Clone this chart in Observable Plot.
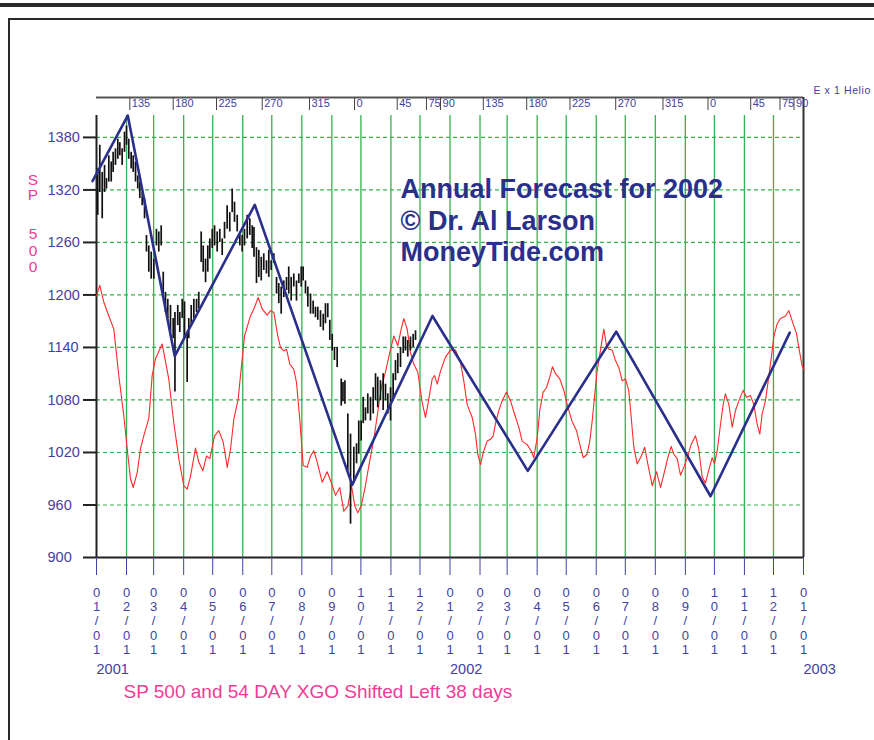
<!DOCTYPE html>
<html><head><meta charset="utf-8">
<script src="https://cdn.jsdelivr.net/npm/d3@7"></script>
<script src="https://cdn.jsdelivr.net/npm/@observablehq/plot@0.6"></script>
<style>
html,body{margin:0;padding:0;background:#fff;}
#wrap{position:relative;width:874px;height:740px;overflow:hidden;font-family:"Liberation Sans",Arial,sans-serif;}
.b{position:absolute;background:#2a2a2a;}
#wrap svg{position:absolute;left:0;top:0;}
</style></head><body>
<div id="wrap">
 <div class="b" style="left:0;top:3px;width:874px;height:4px"></div>
 <div class="b" style="left:8px;top:18px;width:866px;height:2px"></div>
 <div class="b" style="left:8px;top:18px;width:2px;height:722px"></div>
</div>
<script>
// ---------- data ----------
const startDate = "2001-01-01";
const yTicks = [900, 960, 1020, 1080, 1140, 1200, 1260, 1320, 1380];
const yearLabels = ["2001", "2002", "2003"];
const yearDays = [0, 365, 730];

// Earth heliocentric longitude marks (day offsets from start)
const helioDays = [34.4, 79.2, 123.9, 171.1, 219.9, 266.4, 310.5, 340.7, 355.2,
                   399.4, 444.2, 488.9, 536.1, 584.9, 631.4, 675.5, 705.7, 720.2];
const helioLabels = ["135","180","225","270","315","0","45","75","90",
                     "135","180","225","270","315","0","45","75","90"];

// SP 500 daily high/low (sampled), day offsets from start
const barDay = [1.3,3.4,5.9,8.3,10.3,12.7,15.2,17.2,19.6,22,24.1,26.5,28.9,31,33.3,35.8,37.9,40.3,42.6,44.7,
  47.2,49.6,51.6,54,56.5,59.2,61.9,64.3,66.8,68.9,71.2,73.6,76.4,79.2,81,83.9,86,88.5,90.9,93.6,
  95.3,97.8,100.5,103.3,105.6,108.1,110.2,112.6,114.9,117,119.5,121.9,124.6,127.3,129.8,132.2,134.9,137.6,140.1,142.5,
  145.3,148,150.4,152.8,155.6,158.3,160.8,162.6,165.2,167.6,170.1,172.7,175.5,177.9,180.4,183.1,185.9,188.2,190.7,193.4,
  196.2,198.5,201,203.7,206.5,208.9,211.4,213.4,215.8,218.2,221,223.7,226.1,228.5,231.3,234.1,236.4,238.8,240.9,243.4,
  245.7,248.5,252.7,254.5,256.5,259.5,262.3,265.7,268.5,270.8,273.3,275.4,277.7,280.1,282.9,285.7,288.1,290.4,293.2,296,
  298.4,300.8,303.6,306.3,308.7,311.1,313.9,316.7,319,321.4,324.2,327,329.4];
const barHigh = [1344,1371,1340,1348,1333,1359,1352,1363,1367,1378,1374,1367,1386,1393,1378,1363,1359,1352,1336,1329,
  1317,1310,1268,1256,1249,1241,1275,1272,1279,1226,1203,1195,1188,1173,1180,1188,1180,1195,1192,1157,
  1173,1188,1195,1195,1203,1272,1256,1241,1256,1264,1275,1279,1272,1275,1264,1283,1302,1294,1321,1306,
  1291,1272,1268,1275,1291,1287,1279,1277,1254,1251,1243,1247,1239,1251,1239,1247,1220,1213,1209,1216,
  1220,1232,1220,1224,1216,1224,1232,1232,1216,1209,1201,1193,1186,1186,1182,1178,1190,1190,1171,1155,
  1140,1140,1104,1100,1102,1064,1041,1026,1030,1056,1056,1083,1071,1087,1083,1094,1110,1106,1102,1110,
  1098,1087,1094,1110,1125,1133,1140,1152,1152,1148,1152,1155,1159];
const barLow = [1291,1317,1287,1317,1321,1329,1329,1340,1348,1355,1359,1348,1363,1371,1355,1344,1340,1329,1321,1310,
  1302,1287,1249,1226,1218,1218,1256,1249,1256,1199,1180,1173,1157,1150,1089,1165,1157,1173,1150,1100,
  1150,1165,1173,1180,1184,1237,1226,1214,1226,1241,1253,1256,1249,1260,1245,1264,1275,1272,1294,1283,
  1272,1256,1249,1256,1264,1268,1253,1243,1213,1220,1216,1228,1224,1220,1228,1236,1201,1190,1178,1197,
  1205,1201,1193,1209,1193,1213,1209,1216,1201,1186,1178,1178,1174,1171,1163,1159,1167,1174,1148,1136,
  1125,1117,1073,1078,1075,999,938,988,1007,1018,1033,1053,1056,1064,1056,1064,1079,1071,1079,1068,
  1079,1064,1056,1079,1102,1110,1117,1133,1136,1129,1136,1140,1148];

// 54 day XGO shifted left 38 days
const xgoDay = [0,3.4,7.5,12.7,17.9,23,28.2,31.7,35.1,37.9,42,45.4,48.8,54,57.5,60.9,67.8,74.6,79.8,85,
  90.1,93.6,97.1,102.2,105.6,109.8,113.6,117,121.9,126.3,130.8,135,138.4,141.8,146.3,148.7,152.8,159,162.4,167,
  171.1,176.2,179.7,183.1,187.2,190,193.4,196.2,199.6,203.7,206.5,209.9,213.4,217.5,221,224.4,227.9,233,238.2,242.3,
  246.8,251.2,255.3,259.5,263.3,266.7,269.8,273.3,277,281.9,286.3,290.4,293.9,298.4,302.8,307,311.1,314.6,317.3,320.8,
  324.2,327.6,331.7,336.3,339.7,343.1,346.6,349,351.8,355.2,360.3,365.5,370.7,375.8,379.2,382.7,387.9,391.3,393.7,396.5,
  399.9,403.4,406.8,409.6,412,415.4,418.9,423.3,427.5,431.6,436,439.5,444.7,448.8,451.5,455,457.7,461.2,464.6,468,
  470.8,473.9,478.4,482.5,486.6,491.2,495.6,499.7,502.5,506.6,509.3,511.8,514.2,516.9,520.4,523.8,526.6,528.9,532.5,535.9,
  539.3,542.8,546.2,549.6,552.1,554.8,558.3,561.7,566.1,569.2,573.8,578.2,582.4,586.5,589.9,593.4,596.1,599.6,603,606.4,
  609.9,614,618.5,621.9,625.4,628.8,632.2,635.7,638.1,640.9,644.3,647.1,649.4,652.9,656.4,659.8,663.2,667.7,671.1,675.3,
  678.7,682.2,684.9,687.3,690.7,694.1,697.7,699.3,702.8,706.2,711.4,714.8,719.3,722.8,725.1,728.6,730.3];
const xgoValue = [1199,1211,1192,1176,1161,1108,1062,1024,990,980,997,1024,1039,1059,1108,1127,1144,1104,1054,1013,
  982,978,993,1025,1009,999,1016,1013,1039,1045,1032,1003,1024,1058,1081,1108,1153,1176,1184,1197,
  1184,1177,1182,1180,1153,1140,1136,1138,1121,1115,1100,1058,1005,1003,1016,1022,1009,986,998,986,
  971,980,953,959,982,959,951,959,978,1009,1035,1066,1093,1112,1134,1153,1142,1161,1173,1161,
  1134,1121,1112,1077,1060,1081,1104,1108,1098,1113,1129,1137,1137,1123,1102,1075,1060,1041,1018,1006,
  1022,1033,1035,1039,1053,1068,1079,1089,1079,1064,1049,1033,1029,1022,1014,1037,1068,1089,1094,1106,
  1118,1110,1104,1091,1072,1055,1045,1026,1014,1018,1033,1056,1083,1113,1137,1161,1142,1138,1137,1125,
  1117,1102,1104,1091,1060,1026,1007,1014,1026,1007,982,998,980,998,1014,1027,1018,1013,994,1003,
  1014,1029,1039,1024,992,985,1000,1014,1007,1022,1052,1075,1087,1075,1049,1068,1079,1091,1083,1085,
  1075,1052,1041,1064,1079,1106,1137,1152,1167,1173,1176,1182,1167,1156,1140,1119,1115];

// Forecast zigzag (turning points)
const forecastDay = [-4.1, 32.3, 80.8, 163.4, 264, 346.9, 445.3, 536.6, 634, 715.8];
const forecastValue = [1330, 1405, 1130, 1303, 983, 1176, 999, 1158, 970, 1157];

// ---------- helpers ----------
const t0 = new Date(startDate + "T00:00:00Z").getTime();
const toDate = n => new Date(t0 + n * 864e5);
const bars = barDay.map((d, i) => ({date: toDate(d), high: barHigh[i], low: barLow[i]}));
const xgo = xgoDay.map((d, i) => ({date: toDate(d), value: xgoValue[i]}));
const forecast = forecastDay.map((d, i) => ({date: toDate(d), value: forecastValue[i]}));
const helio = helioDays.map((d, i) => ({date: toDate(d), label: helioLabels[i]}));
const years = yearDays.map((d, i) => ({date: toDate(d), label: yearLabels[i]}));
const monthTicks = d3.utcMonth.range(toDate(0), toDate(731));
const gridMonths = monthTicks.filter(d => d > toDate(0) && d < toDate(730));

const BLUE = "#4242a0", GREEN = "#35b24e", NAVY = "#2b2f8c", PINK = "#f03c96";
const FONT = "Liberation Sans, Arial, sans-serif";
const monthLabel = d => {
  const m = String(d.getUTCMonth() + 1).padStart(2, "0");
  return [m[0], m[1], "/", "0", "1"].join("\n");
};

const chart = Plot.plot({
  width: 874, height: 740,
  marginLeft: 96, marginRight: 71, marginTop: 97, marginBottom: 183,
  style: {fontFamily: FONT, background: "transparent", overflow: "visible"},
  x: {type: "utc", domain: [toDate(0), toDate(730)], axis: null},
  y: {domain: [900, 1425.6], axis: null},
  marks: [
    // grid
    Plot.ruleY(yTicks.filter(v => v > 900), {stroke: GREEN, strokeWidth: 1.2, strokeDasharray: "4,3"}),
    Plot.ruleX(gridMonths, {insetTop: 18, stroke: GREEN, strokeWidth: 1.3}),
    // frame lines
    Plot.ruleY([1425.6], {stroke: "#555", strokeWidth: 2}),
    Plot.ruleX([toDate(0)], {insetTop: 18, stroke: "#222", strokeWidth: 2}),
    Plot.ruleX([toDate(730)], {stroke: "#333", strokeWidth: 2}),
    Plot.ruleY([900], {stroke: "#222", strokeWidth: 2}),
    // helio top axis
    Plot.ruleX(helio, {x: "date", insetBottom: 447, stroke: "#444", strokeWidth: 1}),
    Plot.text(helio, {x: "date", frameAnchor: "top", text: "label", textAnchor: "start", lineAnchor: "top",
      dx: 2, dy: 2, fontSize: 11, fill: BLUE}),
    Plot.text(["E x 1 Helio"], {frameAnchor: "top-right", textAnchor: "start", lineAnchor: "bottom",
      dx: 10, dy: -4, fontSize: 10.5, fill: BLUE}),
    // y axis
    Plot.axisY({ticks: yTicks, tickSize: 13, text: null, stroke: "#222", strokeWidth: 2}),
    Plot.axisY({ticks: yTicks, tickSize: 0, tickPadding: 49, textAnchor: "start", tickFormat: d => String(d),
      fontSize: 14.5, fill: BLUE}),
    // x axis
    Plot.axisX({ticks: monthTicks, tickSize: 18, tickPadding: 11, tickFormat: monthLabel,
      fontSize: 13, lineHeight: 1.1, stroke: BLUE, fill: BLUE}),
    Plot.text(years, {x: "date", frameAnchor: "bottom", text: "label", textAnchor: "start", lineAnchor: "bottom",
      dy: 116, fontSize: 14.5, fill: BLUE}),
    // data
    Plot.line(xgo, {x: "date", y: "value", stroke: "#ff2a2a", strokeWidth: 1.1}),
    Plot.ruleX(bars, {x: "date", y1: "low", y2: "high", stroke: "#111", strokeWidth: 1.7}),
    Plot.line(forecast, {x: "date", y: "value", stroke: NAVY, strokeWidth: 2.6}),
    // titles
    Plot.text(["Annual Forecast for 2002\n© Dr. Al Larson\nMoneyTide.com"], {frameAnchor: "top-left",
      textAnchor: "start", lineAnchor: "top", dx: 304, dy: 78, fontSize: 27, fontWeight: "bold",
      lineHeight: 1.17, fill: NAVY}),
    Plot.text(["S\nP"], {frameAnchor: "top-left", textAnchor: "middle", lineAnchor: "top",
      dx: -63.5, dy: 76, fontSize: 15.5, lineHeight: 1.0, fill: PINK}),
    Plot.text(["5\n0\n0"], {frameAnchor: "top-left", textAnchor: "middle", lineAnchor: "top",
      dx: -63.5, dy: 130, fontSize: 15.5, lineHeight: 1.06, fill: PINK}),
    Plot.text(["SP 500 and 54 DAY XGO Shifted Left 38 days"], {frameAnchor: "bottom-left", textAnchor: "start",
      lineAnchor: "bottom", dx: 27, dy: 140, fontSize: 19, fill: PINK})
  ]
});
d3.select(chart).selectAll("text").filter(function () { return this.textContent === "E x 1 Helio"; })
  .attr("letter-spacing", "0.6px");
document.getElementById("wrap").appendChild(chart);
</script>
</body></html>
